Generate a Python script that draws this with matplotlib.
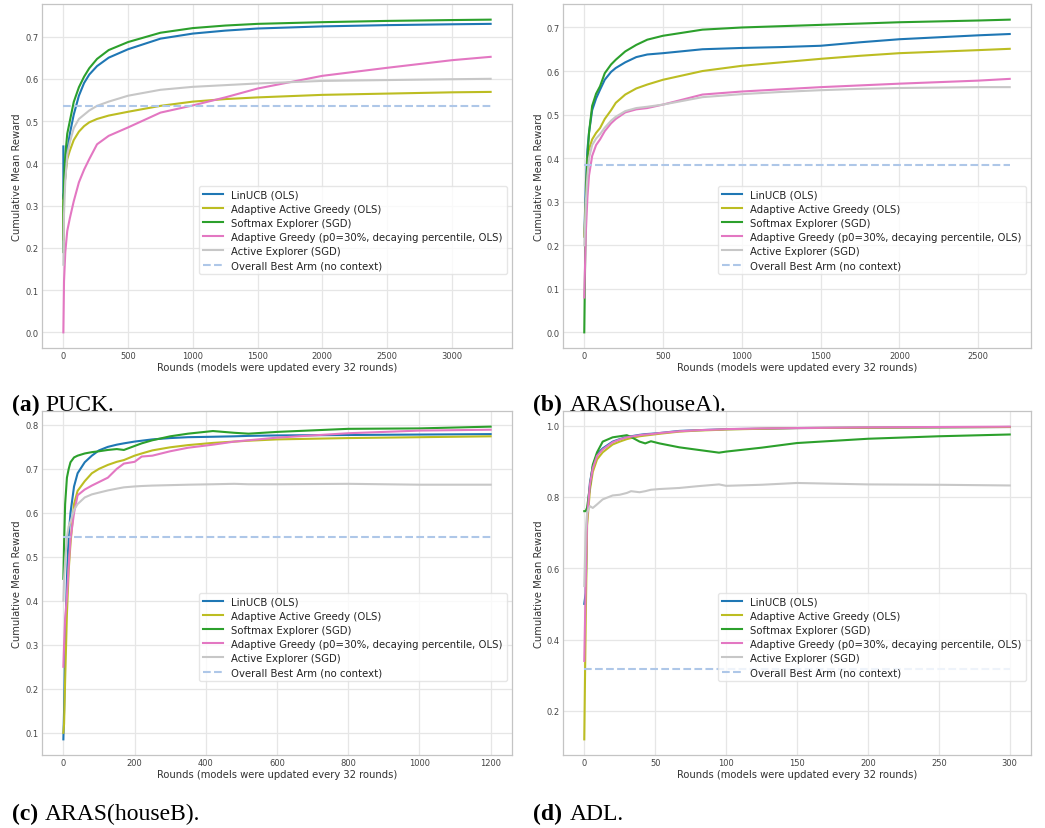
import matplotlib
matplotlib.use("Agg")
import matplotlib.pyplot as plt

# ---- data ----
labels = ["LinUCB (OLS)", "Adaptive Active Greedy (OLS)", "Softmax Explorer (SGD)",
          "Adaptive Greedy (p0=30%, decaying percentile, OLS)", "Active Explorer (SGD)"]
baseline_label = "Overall Best Arm (no context)"
colors = ["#1f77b4", "#bcbd22", "#2ca02c", "#e377c2", "#c7c7c7"]
baseline_color = "#aec7e8"

# (a) PUCK
puck_rounds = [0, 0, 5, 15, 30, 50, 80, 120, 160, 200, 260, 350, 500, 750, 1000, 1250, 1500, 2000, 2500, 3000, 3300]
puck_linucb = [0.44, 0.315, 0.33, 0.37, 0.43, 0.47, 0.515, 0.56, 0.59, 0.61, 0.63, 0.65, 0.67, 0.695, 0.707, 0.714, 0.719, 0.724, 0.727, 0.729, 0.730]
puck_aag = [0.22, 0.31, 0.33, 0.37, 0.41, 0.43, 0.455, 0.475, 0.488, 0.497, 0.505, 0.513, 0.522, 0.536, 0.546, 0.552, 0.556, 0.562, 0.565, 0.568, 0.569]
puck_softmax = [0.19, 0.30, 0.36, 0.42, 0.47, 0.50, 0.545, 0.58, 0.605, 0.625, 0.647, 0.668, 0.687, 0.709, 0.720, 0.726, 0.730, 0.734, 0.737, 0.739, 0.740]
puck_ag = [0.0, 0.0, 0.12, 0.19, 0.24, 0.27, 0.31, 0.355, 0.385, 0.41, 0.445, 0.465, 0.485, 0.52, 0.537, 0.556, 0.577, 0.607, 0.626, 0.644, 0.652]
puck_active = [0.16, 0.16, 0.28, 0.36, 0.42, 0.45, 0.483, 0.505, 0.515, 0.525, 0.536, 0.546, 0.56, 0.574, 0.581, 0.585, 0.589, 0.595, 0.597, 0.599, 0.600]
puck_best = 0.536

# (b) ARAS(houseA)
house_a_rounds = [0, 10, 20, 30, 50, 75, 100, 130, 170, 200, 260, 330, 400, 500, 750, 1000, 1250, 1500, 1750, 2000, 2500, 2700]
house_a_linucb = [0.22, 0.34, 0.42, 0.458, 0.51, 0.537, 0.557, 0.58, 0.598, 0.607, 0.62, 0.632, 0.638, 0.641, 0.650, 0.653, 0.655, 0.658, 0.666, 0.673, 0.682, 0.685]
house_a_aag = [0.22, 0.30, 0.40, 0.42, 0.443, 0.458, 0.469, 0.49, 0.51, 0.527, 0.546, 0.56, 0.569, 0.58, 0.600, 0.612, 0.620, 0.628, 0.635, 0.641, 0.648, 0.651]
house_a_softmax = [0.0, 0.30, 0.40, 0.458, 0.52, 0.548, 0.565, 0.595, 0.615, 0.626, 0.645, 0.660, 0.672, 0.681, 0.695, 0.700, 0.703, 0.706, 0.709, 0.712, 0.716, 0.718]
house_a_ag = [0.08, 0.23, 0.31, 0.36, 0.405, 0.430, 0.443, 0.462, 0.48, 0.49, 0.505, 0.512, 0.515, 0.523, 0.546, 0.553, 0.558, 0.563, 0.567, 0.571, 0.578, 0.582]
house_a_active = [0.20, 0.30, 0.36, 0.40, 0.43, 0.445, 0.455, 0.47, 0.486, 0.495, 0.508, 0.515, 0.518, 0.523, 0.540, 0.547, 0.552, 0.556, 0.559, 0.561, 0.563, 0.563]
house_a_best = 0.384

# (c) ARAS(houseB)
house_b_rounds = [0, 2, 5, 10, 15, 20, 30, 40, 60, 80, 100, 125, 150, 170, 200, 220, 250, 300, 350, 420, 480, 520, 600, 800, 1000, 1200]
house_b_linucb = [0.085, 0.15, 0.30, 0.45, 0.55, 0.60, 0.66, 0.69, 0.715, 0.73, 0.742, 0.75, 0.755, 0.758, 0.762, 0.764, 0.767, 0.77, 0.772, 0.773, 0.774, 0.775, 0.776, 0.777, 0.778, 0.779]
house_b_aag = [0.10, 0.12, 0.22, 0.37, 0.47, 0.53, 0.62, 0.65, 0.672, 0.69, 0.70, 0.709, 0.716, 0.72, 0.73, 0.735, 0.742, 0.749, 0.754, 0.759, 0.762, 0.764, 0.767, 0.77, 0.772, 0.774]
house_b_softmax = [0.45, 0.53, 0.62, 0.68, 0.70, 0.715, 0.726, 0.73, 0.735, 0.738, 0.74, 0.743, 0.745, 0.743, 0.752, 0.758, 0.765, 0.774, 0.78, 0.786, 0.782, 0.780, 0.784, 0.791, 0.792, 0.796]
house_b_ag = [0.25, 0.30, 0.36, 0.41, 0.48, 0.54, 0.60, 0.64, 0.653, 0.662, 0.67, 0.68, 0.70, 0.712, 0.716, 0.728, 0.73, 0.74, 0.748, 0.755, 0.762, 0.765, 0.771, 0.781, 0.787, 0.789]
house_b_active = [0.40, 0.45, 0.49, 0.545, 0.57, 0.58, 0.607, 0.62, 0.635, 0.642, 0.646, 0.651, 0.655, 0.658, 0.66, 0.661, 0.662, 0.663, 0.664, 0.665, 0.666, 0.665, 0.665, 0.666, 0.664, 0.664]
house_b_best = 0.544

# (d) ADL
adl_rounds = [0, 1, 2, 4, 6, 9, 13, 20, 25, 30, 33, 39, 43, 47, 53, 67, 80, 95, 100, 125, 150, 200, 250, 300]
adl_linucb = [0.50, 0.53, 0.75, 0.84, 0.885, 0.92, 0.936, 0.955, 0.962, 0.968, 0.97, 0.974, 0.976, 0.977, 0.979, 0.985, 0.987, 0.989, 0.99, 0.991, 0.993, 0.994, 0.995, 0.996]
adl_aag = [0.12, 0.45, 0.72, 0.82, 0.87, 0.905, 0.925, 0.947, 0.955, 0.962, 0.965, 0.97, 0.972, 0.974, 0.977, 0.983, 0.986, 0.988, 0.989, 0.991, 0.993, 0.994, 0.995, 0.996]
adl_softmax = [0.76, 0.76, 0.77, 0.83, 0.89, 0.925, 0.955, 0.967, 0.97, 0.973, 0.968, 0.955, 0.95, 0.956, 0.95, 0.939, 0.932, 0.924, 0.927, 0.938, 0.951, 0.963, 0.970, 0.975]
adl_ag = [0.34, 0.55, 0.74, 0.835, 0.88, 0.915, 0.933, 0.953, 0.961, 0.967, 0.969, 0.973, 0.975, 0.976, 0.979, 0.984, 0.987, 0.989, 0.99, 0.992, 0.993, 0.995, 0.996, 0.997]
adl_active = [0.55, 0.70, 0.756, 0.774, 0.769, 0.779, 0.793, 0.804, 0.806, 0.811, 0.816, 0.813, 0.816, 0.82, 0.822, 0.825, 0.83, 0.835, 0.831, 0.834, 0.839, 0.835, 0.834, 0.832]
adl_best = 0.316

W, H = 1045, 829
fig = plt.figure(figsize=(W / 100, H / 100), dpi=100)


def add_panel(rect, rounds, series, best):
    left, top, right, bottom = rect
    ax = fig.add_axes([left / W, 1 - bottom / H, (right - left) / W, (bottom - top) / H])
    ax.set_facecolor("white")
    ax.grid(True, color="#e6e6e6", linewidth=0.9)
    ax.set_axisbelow(True)
    for s in ax.spines.values():
        s.set_color("#c4c4c4")
        s.set_linewidth(0.9)
    ax.tick_params(labelcolor="#444444", labelsize=6, length=0, pad=2.5)
    for vals, c, lab in zip(series, colors, labels):
        ax.plot(rounds, vals, color=c, lw=1.5, label=lab)
    ax.plot([rounds[0], rounds[-1]], [best, best], color=baseline_color, lw=1.5, ls="--", label=baseline_label)
    ax.set_xlabel("Rounds (models were updated every 32 rounds)", fontsize=7.2, color="#333333", labelpad=1)
    ax.set_ylabel("Cumulative Mean Reward", fontsize=7.2, color="#333333", labelpad=2)
    leg = ax.legend(loc="lower right", bbox_to_anchor=(1.0, 0.2), fontsize=7.3, frameon=True,
                    edgecolor="#e0e0e0", framealpha=0.8, handlelength=2.0, labelspacing=0.4)
    for t in leg.get_texts():
        t.set_color("#222222")
    return ax


add_panel((42, 5, 512, 349), puck_rounds, [puck_linucb, puck_aag, puck_softmax, puck_ag, puck_active], puck_best)
add_panel((563, 5, 1031, 349), house_a_rounds, [house_a_linucb, house_a_aag, house_a_softmax, house_a_ag, house_a_active], house_a_best)
add_panel((42, 412, 512, 756), house_b_rounds, [house_b_linucb, house_b_aag, house_b_softmax, house_b_ag, house_b_active], house_b_best)
add_panel((563, 412, 1031, 756), adl_rounds, [adl_linucb, adl_aag, adl_softmax, adl_ag, adl_active], adl_best)

# captions
captions = [(12, 45, 411, "(a)", "PUCK."), (533, 570, 411, "(b)", "ARAS(houseA)."),
            (12, 45, 820, "(c)", "ARAS(houseB)."), (533, 570, 820, "(d)", "ADL.")]
for x_tag, x_name, y_base, tag, name in captions:
    fig.text(x_tag / W, 1 - y_base / H, tag, fontsize=17, fontweight="bold", family="Liberation Serif",
             va="baseline", ha="left", zorder=-1)
    fig.text(x_name / W, 1 - y_base / H, name, fontsize=17, family="Liberation Serif",
             va="baseline", ha="left", zorder=-1)

fig.savefig("out.png", dpi=100)
